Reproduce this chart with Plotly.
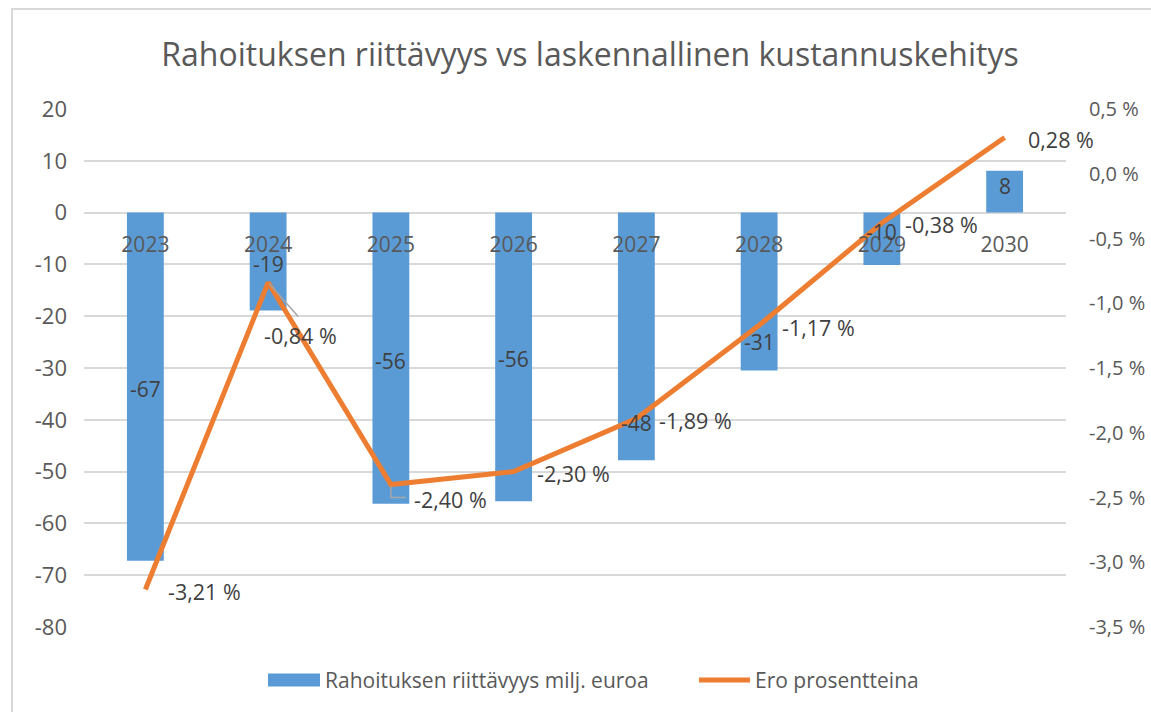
import plotly.graph_objects as go

# ---- data ----
years = ["2023", "2024", "2025", "2026", "2027", "2028", "2029", "2030"]
funding = [-67.2, -18.9, -56.2, -55.7, -47.8, -30.5, -10.1, 8.1]          # milj. euroa
funding_labels = ["-67", "-19", "-56", "-56", "-48", "-31", "-10", "8"]
diff_pct = [-3.21, -0.84, -2.40, -2.30, -1.89, -1.17, -0.38, 0.28]         # %

left_ticks = [20, 10, 0, -10, -20, -30, -40, -50, -60, -70, -80]
right_ticks = [0.5, 0.0, -0.5, -1.0, -1.5, -2.0, -2.5, -3.0, -3.5]

title = "Rahoituksen riittävyys vs laskennallinen kustannuskehitys"
bar_name = "Rahoituksen riittävyys milj. euroa"
line_name = "Ero prosentteina"

# ---- styling / layout constants ----
W, H = 1151, 712
L, R, T, B = 84, 1066, 109, 627.5
BLUE = "#5B9BD5"
ORANGE = "#ED7D31"
GRID = "#D9D9D9"
TXT = "#595959"
LBL = "#404040"
FONT = "Open Sans"


def px2x(px):
    return (px - L) / (R - L)


def py2y(py):
    return (B - py) / (B - T)


def fmt_pct(v, dec):
    s = f"{v:.{dec}f}".replace(".", ",")
    return s + " %"


fig = go.Figure()

fig.add_trace(go.Bar(
    x=list(range(len(years))), y=funding, name=bar_name,
    marker=dict(color=BLUE, line=dict(width=0)),
    showlegend=False, hoverinfo="skip",
))
fig.add_trace(go.Scatter(
    x=list(range(len(years))), y=diff_pct, name=line_name, yaxis="y2",
    mode="lines", line=dict(color=ORANGE, width=5),
    showlegend=False, hoverinfo="skip",
))

annotations = []
shapes = []

# bar value labels (centered in bar, a few moved as in the original)
label_override = {4: -40.6, 5: -24.9, 6: -3.8, 7: 5.1}
for i, (v, t) in enumerate(zip(funding, funding_labels)):
    yv = label_override.get(i, v / 2 - 0.5)
    annotations.append(dict(x=i, y=yv, xref="x", yref="y", text=t, showarrow=False,
                            font=dict(family=FONT, size=21, color=LBL),
                            xanchor="center", yanchor="middle"))

# line value labels
pct_shift = {1: (-6, -53), 2: (21, -15)}
for i, v in enumerate(diff_pct):
    dx, dy = pct_shift.get(i, (21, -2))
    annotations.append(dict(x=i, y=v, xref="x", yref="y2", text=fmt_pct(v, 2), showarrow=False,
                            font=dict(family=FONT, size=21.5, color=LBL),
                            xanchor="left", yanchor="middle", xshift=dx, yshift=dy))

# leader lines
shapes.append(dict(type="line", xref="x", yref="y2", xsizemode="pixel", ysizemode="pixel",
                   xanchor=1, yanchor=diff_pct[1], x0=1, y0=-1, x1=30, y1=-34,
                   line=dict(color="#A6A6A6", width=1.5)))
shapes.append(dict(type="path", xref="x", yref="y2", xsizemode="pixel", ysizemode="pixel",
                   xanchor=2, yanchor=diff_pct[2], path="M0,-2 L0,-13 L15,-13",
                   line=dict(color="#A6A6A6", width=1.5)))

# chart border
shapes.append(dict(type="rect", xref="paper", yref="paper",
                   x0=px2x(12), x1=px2x(1170), y0=py2y(730), y1=py2y(9),
                   line=dict(color=GRID, width=2), fillcolor="rgba(0,0,0,0)", layer="below"))

# manual legend
shapes.append(dict(type="rect", xref="paper", yref="paper",
                   x0=px2x(268), x1=px2x(320), y0=py2y(687), y1=py2y(674),
                   fillcolor=BLUE, line=dict(width=0)))
shapes.append(dict(type="line", xref="paper", yref="paper",
                   x0=px2x(699), x1=px2x(750), y0=py2y(680.5), y1=py2y(680.5),
                   line=dict(color=ORANGE, width=5)))
annotations.append(dict(x=px2x(323), y=py2y(680.5), xref="paper", yref="paper", text=bar_name,
                        showarrow=False, xanchor="left", yanchor="middle",
                        font=dict(family=FONT, size=21, color=TXT)))
annotations.append(dict(x=px2x(753), y=py2y(680.5), xref="paper", yref="paper", text=line_name,
                        showarrow=False, xanchor="left", yanchor="middle",
                        font=dict(family=FONT, size=21, color=TXT)))

fig.update_layout(
    width=W, height=H,
    margin=dict(l=L, r=W - R, t=T, b=H - B, pad=0, autoexpand=False),
    paper_bgcolor="white", plot_bgcolor="white",
    title=dict(text=title, x=590 / W, xref="container", xanchor="center",
               y=1 - 55 / H, yref="container", yanchor="middle",
               font=dict(family=FONT, size=32, color=TXT)),
    bargap=0.70,
    showlegend=False,
    xaxis=dict(type="linear", range=[-0.5, len(years) - 0.5],
               tickvals=list(range(len(years))), ticktext=years,
               anchor="free", position=py2y(212.7), automargin=False,
               showgrid=False, zeroline=False, showline=False, ticks="",
               ticklabelstandoff=17,
               tickfont=dict(family=FONT, size=21, color=TXT)),
    yaxis=dict(range=[-80, 20], tickvals=left_ticks, ticktext=[str(v) for v in left_ticks],
               showgrid=True, gridcolor=GRID, gridwidth=1.5, automargin=False,
               zeroline=False, showline=False, ticks="",
               ticklabelstandoff=16,
               tickfont=dict(family=FONT, size=22, color=TXT)),
    yaxis2=dict(range=[-3.5, 0.5], overlaying="y", side="right", automargin=False,
                tickvals=right_ticks, ticktext=[fmt_pct(v, 1) for v in right_ticks],
                showgrid=False, zeroline=False, showline=False, ticks="",
                ticklabelstandoff=22,
                tickfont=dict(family=FONT, size=20, color=TXT)),
    annotations=annotations,
    shapes=shapes,
)

fig.write_html("out.html", config={"displayModeBar": False},
               post_script="document.body.style.margin='0';document.body.style.overflow='hidden';")
